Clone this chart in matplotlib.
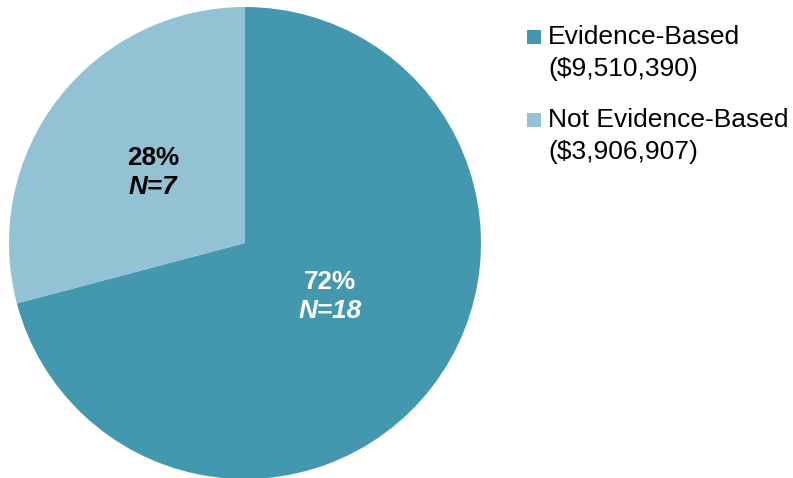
import matplotlib
matplotlib.use("Agg")
import matplotlib.pyplot as plt
from matplotlib.patches import Rectangle

categories = ["Evidence-Based", "Not Evidence-Based"]
amounts = [9510390, 3906907]
percent_labels = ["72%", "28%"]
n_labels = ["N=18", "N=7"]
colors = ["#4398AF", "#93C2D4"]
label_colors = ["white", "black"]

plt.rcParams['font.family'] = ['Liberation Sans', 'DejaVu Sans']

W, H = 793, 478
fig = plt.figure(figsize=(W / 100, H / 100), dpi=100)
cx, cy, r = 245, 243, 236
ax = fig.add_axes([(cx - r) / W, (H - cy - r) / H, 2 * r / W, 2 * r / H])
wedges, _ = ax.pie(amounts, colors=colors, startangle=90, counterclock=False,
                   radius=1.0, wedgeprops=dict(linewidth=0))
ax.set_xlim(-1, 1)
ax.set_ylim(-1, 1)
ax.set_aspect('auto')
ax.axis('off')

# label positions (pixel positions of text centers)
label_pos = [(330, 282), (153, 158)]
for (px, py), pct, n, col in zip(label_pos, percent_labels, n_labels, label_colors):
    fig.text(px / W, 1 - py / H, pct, ha='center', va='center', fontsize=18.8,
             fontweight='bold', color=col)
    fig.text(px / W, 1 - (py + 29) / H, n, ha='center', va='center', fontsize=18.8,
             fontweight='bold', fontstyle='italic', color=col)

# legend
leg_y = [37, 120]
for y0, cat, amt, col in zip(leg_y, categories, amounts, colors):
    fig.patches.append(Rectangle((527 / W, 1 - (y0 + 7) / H), 14 / W, 14 / H,
                                 transform=fig.transFigure, facecolor=col,
                                 edgecolor='none'))
    fig.text(548 / W, 1 - y0 / H, cat, ha='left', va='center', fontsize=19,
             color='black')
    fig.text(548 / W, 1 - (y0 + 32) / H, f"(${amt:,})", ha='left', va='center',
             fontsize=19, color='black')

fig.savefig("out.png", dpi=100, facecolor='white')
